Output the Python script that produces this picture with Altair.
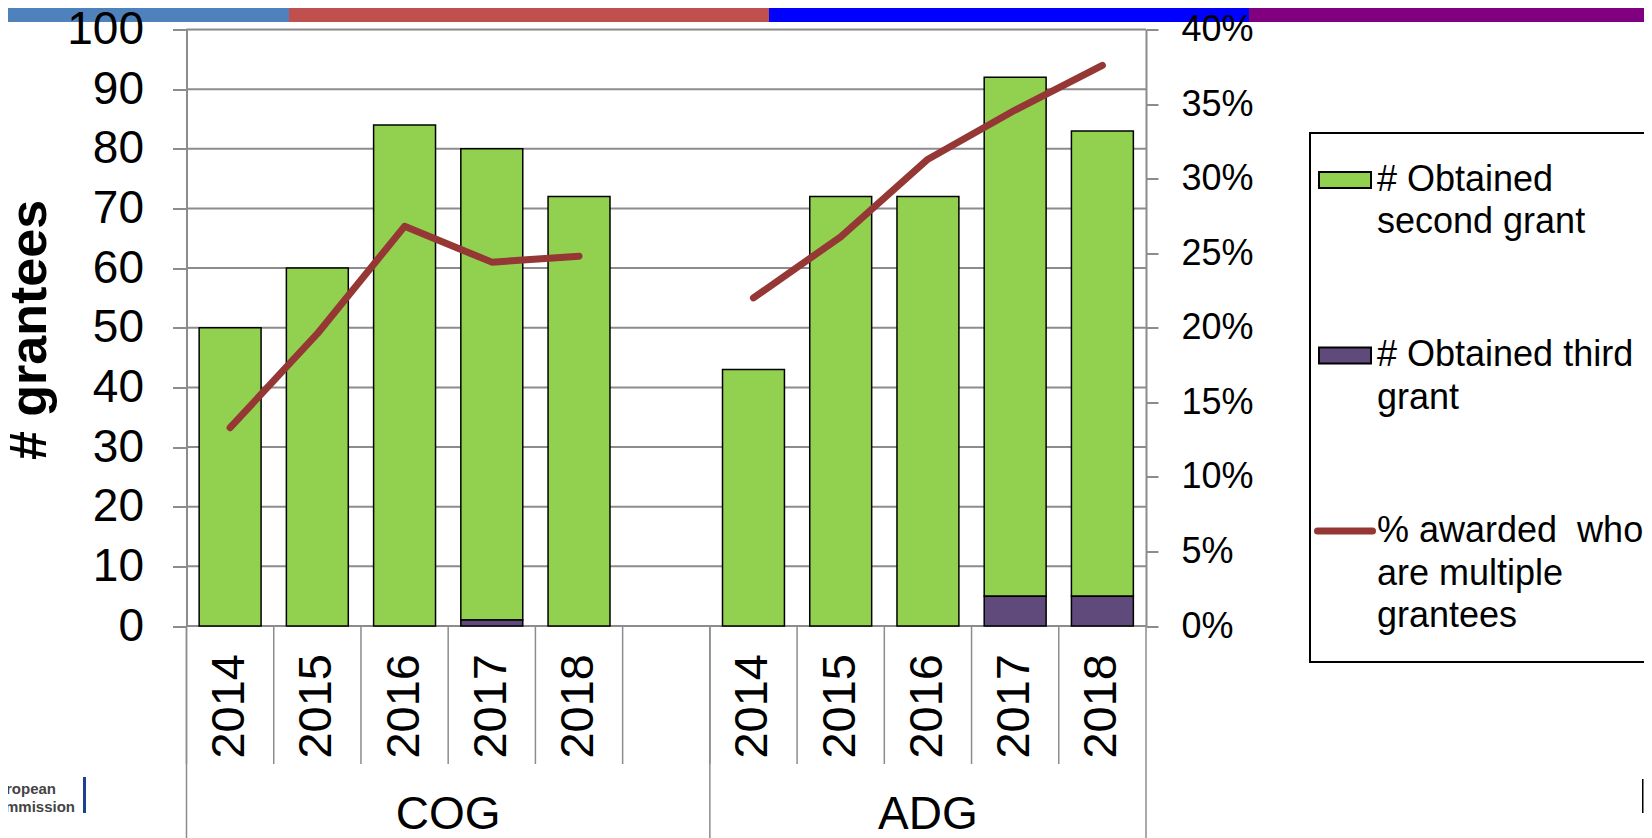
import altair as alt
import pandas as pd

# ---------------- data ----------------
groups = ["COG", "ADG"]
years = ["2014", "2015", "2016", "2017", "2018"]
second_cog = [50, 60, 84, 79, 72]
third_cog = [0, 0, 0, 1, 0]
pct_cog = [13.3, 19.6, 26.8, 24.4, 24.8]
second_adg = [43, 72, 72, 87, 78]
third_adg = [0, 0, 0, 5, 5]
pct_adg = [22.0, 26.1, 31.3, 34.6, 37.6]
series_names = ["# Obtained second grant", "# Obtained third grant"]
legend_lines = [["# Obtained", "second grant"], ["# Obtained third", "grant"],
                ["% awarded\u00a0 who", "are multiple", "grantees"]]
left_ticks = [0, 10, 20, 30, 40, 50, 60, 70, 80, 90, 100]
right_ticks = [0, 0.05, 0.10, 0.15, 0.20, 0.25, 0.30, 0.35, 0.40]

# ---------------- tables ----------------
domain = [f"COG {y}" for y in years] + ["gap"] + [f"ADG {y}" for y in years]
rows = []
lrows = []
for g, sec, thr, pct in [("COG", second_cog, third_cog, pct_cog),
                         ("ADG", second_adg, third_adg, pct_adg)]:
    for y, s, t, p in zip(years, sec, thr, pct):
        cat = f"{g} {y}"
        rows.append({"cat": cat, "series": series_names[0], "value": s, "ord": 1})
        if t > 0:
            rows.append({"cat": cat, "series": series_names[1], "value": t, "ord": 0})
        lrows.append({"cat": cat, "group": g, "year": y, "pct": p / 100.0})
bar_df = pd.DataFrame(rows)
line_df = pd.DataFrame(lrows)
grid_df = pd.DataFrame({"v": left_ticks})

W, H = 959.5, 596.5
GRAY = "#8c8c8c"
FONT = "Liberation Sans"
xscale = alt.Scale(domain=domain, paddingInner=0, paddingOuter=0)
yscale_count = alt.Scale(domain=[0, 100], nice=False)


def X(band=None):
    kw = {}
    if band is not None:
        kw["bandPosition"] = band
    return alt.X("cat:N", scale=xscale, axis=None, title=None, **kw)


left_axis = alt.Axis(
    values=left_ticks, grid=False, zindex=1,
    tickSize=14, tickColor=GRAY, tickWidth=2,
    domainColor=GRAY, domainWidth=2,
    labelFontSize=46, labelPadding=29, labelColor="black", labelFont=FONT,
    title="# grantees", titleFontSize=52, titleFontWeight="bold", titleFont=FONT,
    titleColor="black", titleAngle=270, titleX=-141.5, titleY=300,
    titleAlign="center", titleBaseline="alphabetic",
)
right_axis = alt.Axis(
    orient="right", values=right_ticks, format=".0%", grid=False, zindex=1,
    tickSize=12, tickColor=GRAY, tickWidth=2, domainColor=GRAY, domainWidth=2,
    labelFontSize=36, labelPadding=23, labelColor="black", labelFont=FONT, title=None,
)

# horizontal gridlines (behind the bars)
grid = alt.Chart(grid_df).mark_rule(color=GRAY, strokeWidth=2).encode(
    y=alt.Y("v:Q", scale=yscale_count, axis=None), x=alt.value(0), x2=alt.value(W))

bars = alt.Chart(bar_df).mark_bar(
    width=alt.RelativeBandSize(0.71), stroke="black", strokeWidth=1.5
).encode(
    x=X(),
    y=alt.Y("value:Q", stack="zero", scale=yscale_count, axis=left_axis),
    color=alt.Color("series:N", scale=alt.Scale(domain=series_names,
                                                range=["#92D050", "#604A7B"]),
                    legend=None),
    order=alt.Order("ord:Q"),
)

line = alt.Chart(line_df).mark_line(
    color="#953735", strokeWidth=7, strokeCap="round", strokeJoin="round"
).encode(
    x=X(band=0.5),
    y=alt.Y("pct:Q", scale=alt.Scale(domain=[0, 0.4], nice=False), axis=right_axis),
    detail="group:N",
)

# year labels under each bar (rotated)
year_labels = alt.Chart(line_df).mark_text(
    angle=270, align="right", baseline="middle", fontSize=47, font=FONT, color="black"
).encode(x=X(band=0.5), y=alt.value(H + 28), text="year:N")

# category separators below the axis
sep_df = pd.DataFrame({"cat": domain})
short_sep = alt.Chart(sep_df).mark_rule(color=GRAY, strokeWidth=1.5).encode(
    x=X(band=0), y=alt.value(H), y2=alt.value(734.5))
long_df = pd.DataFrame({"cat": ["COG 2014", "ADG 2014"]})
long_sep = alt.Chart(long_df).mark_rule(color=GRAY, strokeWidth=1.5).encode(
    x=X(band=0), y=alt.value(H), y2=alt.value(830))
end_df = pd.DataFrame({"cat": ["ADG 2018"]})
end_sep = alt.Chart(end_df).mark_rule(color=GRAY, strokeWidth=1.5).encode(
    x=X(band=1), y=alt.value(H), y2=alt.value(830))

cog_lab = alt.Chart(pd.DataFrame({"cat": ["COG 2016"], "label": [groups[0]]})).mark_text(
    fontSize=46, font=FONT, align="center", baseline="alphabetic", color="black"
).encode(x=X(band=1), y=alt.value(799), text="label:N")
adg_lab = alt.Chart(pd.DataFrame({"cat": ["ADG 2016"], "label": [groups[1]]})).mark_text(
    fontSize=46, font=FONT, align="center", baseline="alphabetic", color="black"
).encode(x=X(band=0.5), y=alt.value(799), text="label:N")

one = pd.DataFrame({"a": [0]})


def rect(x1, x2, y1, y2, **kw):
    return alt.Chart(one).mark_rect(**kw).encode(
        x=alt.value(x1), x2=alt.value(x2), y=alt.value(y1), y2=alt.value(y2))


def txt(x, y, t, **kw):
    return alt.Chart(one).mark_text(font=FONT, **kw).encode(
        x=alt.value(x), y=alt.value(y), text=alt.value(t))


EDGE = 1457.5  # right edge of the picture, in plot coordinates

# slide decoration: top colour band
band = [
    rect(-186.5, 102.5, -22.5, -7.5, color="#4F81BD"),
    rect(102.5, 582.5, -22.5, -7.5, color="#C0504D"),
    rect(582.5, 1062.5, -22.5, -7.5, color="#0000FF"),
    rect(1062.5, EDGE, -22.5, -7.5, color="#800080"),
]

# legend (box open to the right: it runs past the picture's edge)
tstyle = dict(fontSize=36, align="left", baseline="middle", lineHeight=42.5, color="black")
legend = [
    rect(1122.5, EDGE, 102.5, 104.5, color="black"),
    rect(1122.5, EDGE, 631.5, 633.5, color="black"),
    rect(1122.5, 1124.5, 102.5, 633.5, color="black"),
    rect(1132.5, 1184.5, 142.5, 158.5, fill="#92D050", stroke="black", strokeWidth=2),
    rect(1132.5, 1184.5, 318, 334, fill="#604A7B", stroke="black", strokeWidth=2),
    alt.Chart(one).mark_rule(color="#953735", strokeWidth=7, strokeCap="round").encode(
        x=alt.value(1131), x2=alt.value(1186), y=alt.value(501.5)),
    txt(1190.5, 150, legend_lines[0], **tstyle),
    txt(1190.5, 325.8, legend_lines[1], **tstyle),
    txt(1190.5, 501.5, legend_lines[2], **tstyle),
]

# logo fragments
logo = [
    txt(-130.5, 759.5, "uropean", fontSize=15, fontWeight="bold", align="right",
        baseline="middle", color="#444444"),
    txt(-111.5, 777.5, "ommission", fontSize=15, fontWeight="bold", align="right",
        baseline="middle", color="#444444"),
    rect(-103.5, -100.5, 747.5, 783.5, color="#1F3F95"),
    rect(1455.5, 1457, 749.5, 783.5, color="black"),
]

chart = alt.layer(
    *band, grid, bars, line, year_labels, short_sep, long_sep, end_sep, cog_lab, adg_lab,
    *legend, *logo
).resolve_scale(y="independent").properties(
    width=W, height=H,
    autosize=alt.AutoSizeParams(type="none"),
    padding={"left": 178.5, "top": 21.5, "right": 498, "bottom": 212},
).configure_view(stroke=None).configure(font=FONT)

chart.save("out.html", embed_options={"renderer": "svg", "actions": False})
